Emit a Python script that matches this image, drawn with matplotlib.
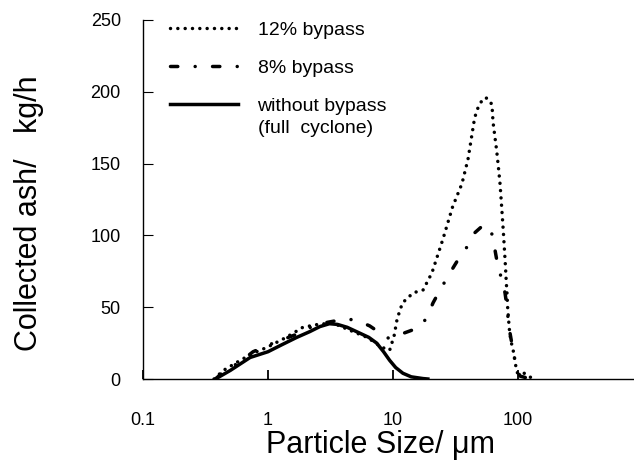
import numpy as np
import matplotlib.pyplot as plt
from matplotlib.ticker import NullLocator

# 12% bypass (dotted)
x_12 = [0.37, 0.44, 0.6, 0.76, 0.98, 1.4, 1.9, 2.5, 3.3, 4.5, 6.2, 8.2, 9.4, 10.2, 10.8, 11.9,
        14.5, 17.4, 20.5, 25, 30, 35.6, 39.8, 45, 47.9, 51.5, 54.5, 58, 61.9, 63.1, 67.5, 69.6,
        71.8, 73.3, 74.9, 76.4, 77.9, 79.4, 80.6, 81.6, 82.6, 84.1, 85.8, 88.6, 92.5, 95.5,
        99.1, 104, 112, 122, 132]
y_12 = [0, 6, 13, 18, 22, 29, 36, 38, 39, 34, 29, 22, 20, 30, 42, 53,
        60, 62, 74, 97, 120, 136, 153, 182, 189, 194, 196, 195, 191, 179, 159, 148,
        136, 125, 113, 102, 90, 78, 67, 60, 50, 41, 32, 25, 18, 10,
        4, 4, 4, 2, 0]

# 8% bypass (dash-dot)
x_8 = [0.38, 0.44, 0.6, 0.76, 1.1, 1.8, 2.3, 3.0, 4.3, 5.4, 6.5, 7.9, 9.0, 10.0, 11.4, 16.4,
       18.7, 20.9, 23.8, 28.6, 33.1, 39.1, 45.3, 51, 56.5, 60, 63.1, 66, 69.2, 74.5, 78.7,
       81.7, 83.5, 86.3, 91.2, 95.5, 98.2, 104, 115, 129]
y_8 = [0, 5, 12, 19, 25, 32, 37, 39.5, 42, 40, 37, 32, 28.5, 29, 31, 36,
       43, 53, 62, 74, 83, 92, 102, 106, 107, 105, 98, 88, 78, 69, 60,
       50, 41, 32, 20, 11, 6, 2, 1, 0]

# without bypass (solid)
x_0 = [0.38, 0.5, 0.72, 1.0, 1.3, 1.7, 2.16, 2.6, 3.1, 3.6, 4.3, 5.4, 6.4, 7.4, 8.4, 9.4,
       10.5, 12, 14, 17.4, 19]
y_0 = [0, 6, 15, 19, 24, 29, 33, 36.5, 38.5, 38, 36, 32, 29, 25, 19, 13,
       8, 4, 1.5, 0.3, 0]

x_ticks = [0.1, 1, 10, 100]
x_tick_labels = ['0.1', '1', '10', '100']
y_ticks = [0, 50, 100, 150, 200, 250]

plt.rcParams['font.family'] = ['Liberation Sans', 'DejaVu Sans']

fig = plt.figure(figsize=(6.34, 4.74), dpi=100)
ax = fig.add_axes([143/634, 1 - 379/474, 491/634, 359/474])

ax.plot(x_12, y_12, c='k', lw=2.5, ls=(0, (0.01, 2.1)), dash_capstyle='round',
        solid_capstyle='round', label='12% bypass')
ax.plot(x_8, y_8, c='k', lw=2.5, ls=(0, (2.1, 5, 0.01, 5)), dash_capstyle='round',
        label='8% bypass')
ax.plot(x_0, y_0, c='k', lw=2.5, label='without bypass')

ax.set_xscale('log')
ax.set_xlim(0.1, 847)
ax.set_ylim(0, 250)
ax.set_xticks(x_ticks)
ax.set_xticklabels(x_tick_labels)
ax.xaxis.set_minor_locator(NullLocator())
ax.set_yticks(y_ticks)

for s in ['top', 'right']:
    ax.spines[s].set_visible(False)
for s in ['left', 'bottom']:
    ax.spines[s].set_linewidth(1.0)

ax.tick_params(axis='x', direction='in', length=6.5, width=1.3, pad=24, labelsize=13)
ax.tick_params(axis='y', direction='in', length=7, width=0.8, pad=16, labelsize=13)

leg = ax.legend(loc='upper left', bbox_to_anchor=(170/634, 1 - 21/474),
                bbox_transform=fig.transFigure, frameon=False, fontsize=14,
                handlelength=3.5, handletextpad=1.0, labelspacing=1.05,
                borderpad=0, borderaxespad=0)

fig.canvas.draw()
bb = leg.get_texts()[2].get_window_extent()
fig.text(bb.x0 / 634, (bb.y0 - 18) / 474, '(full  cyclone)', fontsize=14)

fig.text(380/634, 1 - 453/474, 'Particle Size/ μm', fontsize=22, ha='center', va='baseline')
fig.text(37/634, 1 - 213/474, 'Collected ash/   kg/h', fontsize=22, rotation=90,
         rotation_mode='anchor', ha='center', va='baseline')

fig.savefig('out.png', dpi=100)
